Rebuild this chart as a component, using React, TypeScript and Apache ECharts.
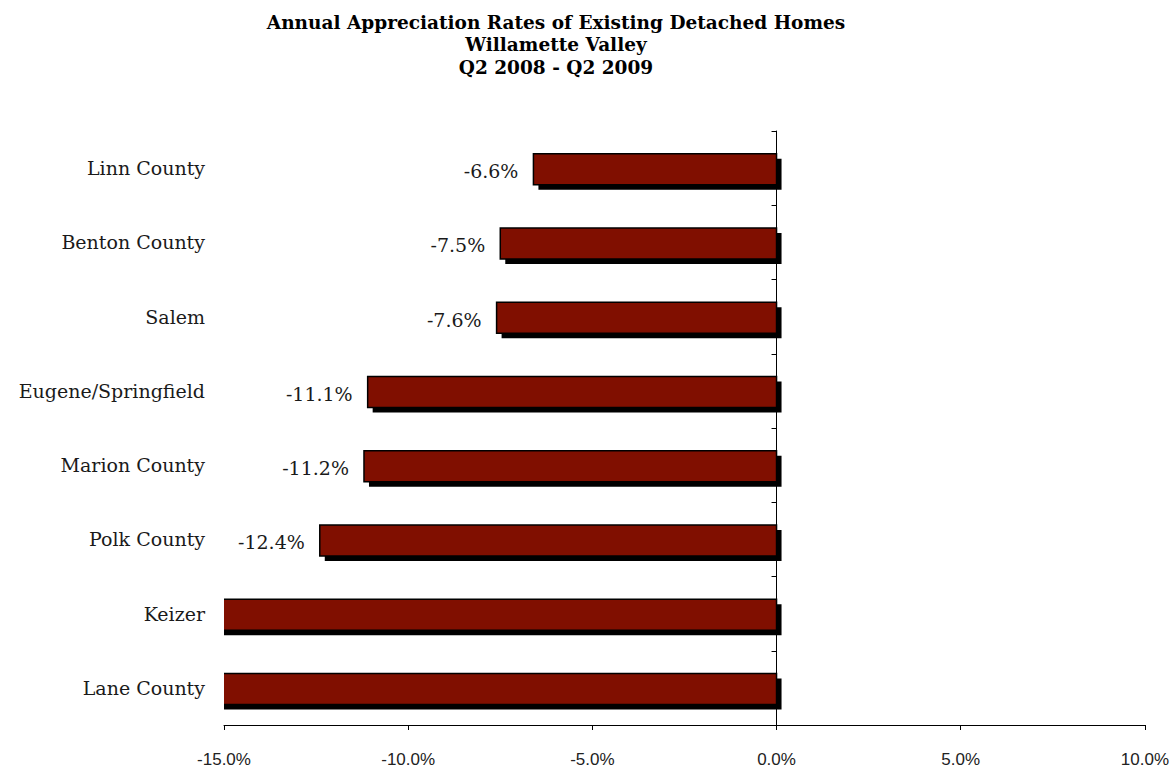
import React, { useEffect, useRef } from "react";
import * as echarts from "echarts";

// Regions, top to bottom
const regions = [
  "Linn County",
  "Benton County",
  "Salem",
  "Eugene/Springfield",
  "Marion County",
  "Polk County",
  "Keizer",
  "Lane County",
];

// Year-over-year change in median price, percent
const appreciation = [-6.6, -7.5, -7.6, -11.1, -11.2, -12.4, -15.8, -16.7];

const xTicks = [-15, -10, -5, 0, 5, 10];

const titleLines = [
  "Annual Appreciation Rates of Existing Detached Homes",
  "Willamette Valley",
  "Q2 2008 - Q2 2009",
];

const AXIS_MIN = -15;
const AXIS_MAX = 10;
const BAR_FILL = "#800f00";
const BAR_HEIGHT = 31;
const SHADOW = 5;

export default function App() {
  const ref = useRef<HTMLDivElement>(null);

  useEffect(() => {
    document.body.style.margin = "0";
    if (!ref.current) return;
    const chart = echarts.init(ref.current, null, { renderer: "svg" });

    const serif = "DejaVu Serif";
    const sans = "Liberation Sans";

    chart.setOption({
      animation: false,
      backgroundColor: "#ffffff",
      title: {
        text: titleLines.join("\n"),
        left: 551,
        textAlign: "center",
        top: 6,
        textStyle: {
          fontFamily: serif,
          fontWeight: "bold",
          fontSize: 18.5,
          lineHeight: 22.5,
          color: "#000",
        },
      },
      grid: { left: 224, right: 27, top: 131, bottom: 38 },
      xAxis: {
        type: "value",
        min: AXIS_MIN,
        max: AXIS_MAX,
        interval: 5,
        splitLine: { show: false },
        axisLine: { show: true, onZero: false, lineStyle: { color: "#000", width: 1 } },
        axisTick: { show: true, length: 5, lineStyle: { color: "#000" } },
        axisLabel: {
          margin: 26,
          fontFamily: sans,
          fontSize: 17,
          color: "#222",
          formatter: (v: number) => (xTicks.includes(v) ? v.toFixed(1) + "%" : ""),
        },
      },
      yAxis: [
        {
          type: "category",
          data: regions,
          inverse: true,
          axisLine: { show: true, onZero: true, lineStyle: { color: "#000", width: 1 } },
          axisTick: { show: true, length: 5, lineStyle: { color: "#000" } },
          axisLabel: { show: false },
          splitLine: { show: false },
        },
        {
          type: "category",
          data: regions,
          inverse: true,
          position: "left",
          axisLine: { show: false, onZero: false },
          axisTick: { show: false },
          axisLabel: {
            margin: 19,
            padding: [4, 0, 0, 0],
            fontFamily: serif,
            fontSize: 19,
            color: "#1a1a1a",
          },
          splitLine: { show: false },
        },
      ],
      series: [
        {
          type: "custom",
          clip: true,
          xAxisIndex: 0,
          yAxisIndex: 0,
          encode: { x: 0, y: 1 },
          data: appreciation.map((v, i) => [v, i]),
          renderItem: (params: any, api: any) => {
            const v = api.value(0);
            const idx = api.value(1);
            const zero = api.coord([0, idx]);
            const end = api.coord([v, idx]);
            const left = Math.min(zero[0], end[0]);
            const width = Math.abs(zero[0] - end[0]);
            const top = zero[1] - BAR_HEIGHT / 2 + 1;
            const children: any[] = [
              {
                type: "rect",
                shape: { x: left + SHADOW, y: top + SHADOW, width, height: BAR_HEIGHT },
                style: { fill: "#000" },
              },
              {
                type: "rect",
                shape: { x: left, y: top, width, height: BAR_HEIGHT },
                style: { fill: BAR_FILL, stroke: "#000", lineWidth: 1.5 },
              },
            ];
            if (v >= AXIS_MIN) {
              children.push({
                type: "text",
                x: left - 15,
                y: zero[1] + 3,
                style: {
                  text: v.toFixed(1) + "%",
                  align: "right",
                  verticalAlign: "middle",
                  fontFamily: serif,
                  fontSize: 19,
                  fill: "#1a1a1a",
                },
              });
            }
            return { type: "group", children };
          },
        },
      ],
    });

    return () => chart.dispose();
  }, []);

  return <div ref={ref} style={{ width: 1172, height: 768 }} />;
}
